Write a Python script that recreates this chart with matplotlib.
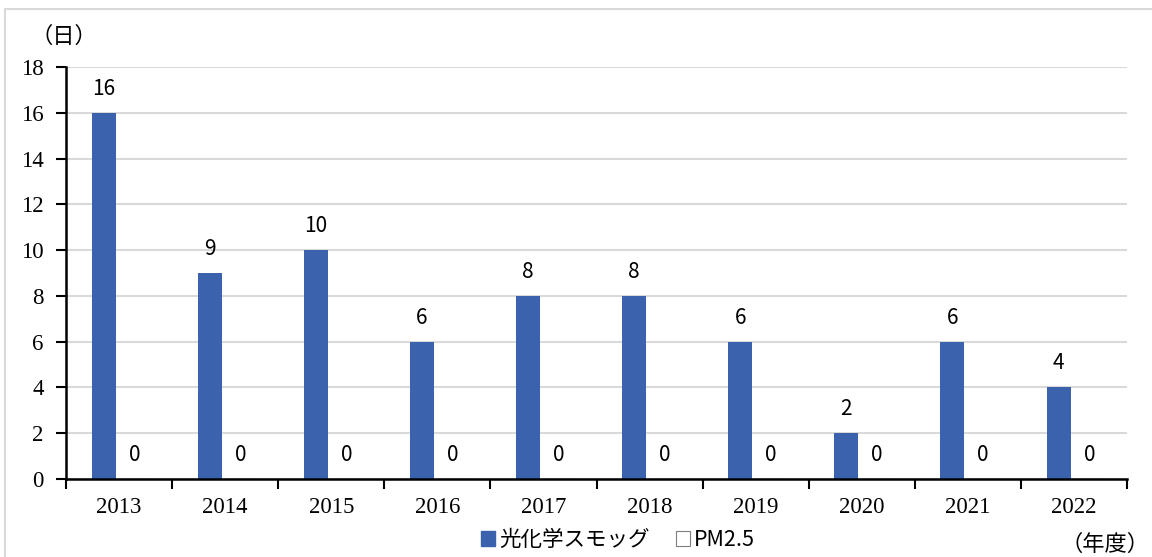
import matplotlib
matplotlib.use("Agg")
import matplotlib.pyplot as plt
from matplotlib.patches import Rectangle, Patch
import numpy as np

years = ["2013", "2014", "2015", "2016", "2017", "2018", "2019", "2020", "2021", "2022"]
smog = [16, 9, 10, 6, 8, 8, 6, 2, 6, 4]
pm25 = [0, 0, 0, 0, 0, 0, 0, 0, 0, 0]
series_names = ["光化学スモッグ", "PM2.5"]
y_ticks = [0, 2, 4, 6, 8, 10, 12, 14, 16, 18]

W, H = 1152, 557
fig = plt.figure(figsize=(W / 100, H / 100), dpi=100)
fig.patch.set_facecolor("white")

# outer chart border
fig.patches.append(Rectangle((4.5 / W, -0.1), 1.2, 1.1 - 8.5 / H + 0.0,
                             transform=fig.transFigure, fill=False,
                             edgecolor="#d9d9d9", linewidth=1.5, zorder=0))

left, right, top, bottom = 66, 1127, 67, 479
ax = fig.add_axes([left / W, 1 - bottom / H, (right - left) / W, (bottom - top) / H])

cjk = ["Noto Sans CJK JP", "DejaVu Sans"]
serif = ["Liberation Serif", "DejaVu Serif"]

x = np.arange(len(years))
bw = 0.226
off = 0.145
blue = "#3A62AD"
b1 = ax.bar(x - off, smog, bw, color=blue, zorder=3, label=series_names[0])
b2 = ax.bar(x + off, pm25, bw, color="white", edgecolor="#7f7f7f", linewidth=0.8,
            zorder=3, label=series_names[1])

for xi, v in zip(x - off, smog):
    ax.annotate(str(v), (xi, v), xytext=(0, 13), textcoords="offset points",
                ha="center", va="baseline", fontsize=15, family=cjk, color="black")
for xi, v in zip(x + off, pm25):
    ax.annotate(str(v), (xi, v), xytext=(0, 13), textcoords="offset points",
                ha="center", va="baseline", fontsize=15, family=cjk, color="black")

ax.set_xlim(-0.5, len(years) - 0.5)
ax.set_ylim(0, 18)
ax.set_yticks(y_ticks)
ax.set_yticklabels([str(t) for t in y_ticks], family=serif, fontsize=16.5)
ax.yaxis.grid(True, color="#d9d9d9", linewidth=1.5, zorder=0)
ax.set_axisbelow(True)
ax.tick_params(axis="y", direction="out", length=7, width=1.5, pad=9, colors="black")

ax.set_xticks(x)
ax.set_xticklabels(years, family=serif, fontsize=16.5)
ax.set_xticks(np.arange(-0.5, len(years)), minor=True)
ax.tick_params(axis="x", which="major", length=0, pad=13)
ax.tick_params(axis="x", which="minor", direction="out", length=7, width=1.5, colors="black")

for s in ["top", "right"]:
    ax.spines[s].set_visible(False)
ax.spines["left"].set_linewidth(1.8)
ax.spines["bottom"].set_linewidth(1.8)
ax.spines["left"].set_zorder(4)
ax.spines["bottom"].set_zorder(4)

fig.text(64 / W, 1 - 36 / H, "（日）", family=cjk, fontsize=16, ha="center", va="center")
fig.text(1150 / W, 1 - 544 / H, "（年度）", family=cjk, fontsize=16, ha="right", va="center")

h1 = Patch(facecolor=blue, edgecolor=blue)
h2 = Patch(facecolor="white", edgecolor="#7f7f7f", linewidth=0.8)
fig.legend([h1, h2], series_names, loc="center", bbox_to_anchor=(618 / W, 1 - 540 / H),
           ncol=2, frameon=False, prop={"family": cjk, "size": 15.5},
           handlelength=0.65, handleheight=0.65, handletextpad=0.2, columnspacing=1.2,
           borderpad=0)

fig.savefig("out.png", dpi=100, facecolor="white")
